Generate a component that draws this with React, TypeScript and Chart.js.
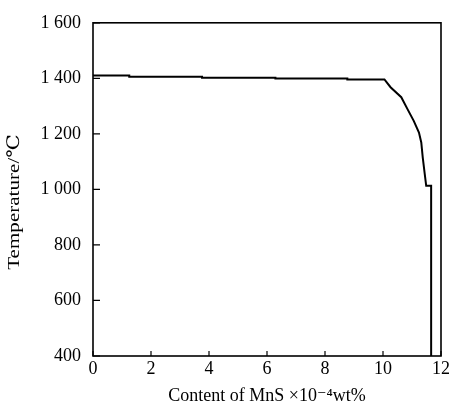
import React, { useEffect, useRef } from "react";
import { Chart, registerables } from "chart.js";

Chart.register(...registerables);

const contentX = [0, 1.25, 1.25, 3.76, 3.76, 6.29, 6.29, 8.77, 8.77, 10.05, 10.26, 10.63, 10.84, 11.06, 11.24, 11.32, 11.37, 11.44, 11.49, 11.66, 11.66];
const temperatureY = [1410, 1410, 1406, 1406, 1402, 1402, 1399, 1399, 1396, 1396, 1368, 1332, 1290, 1247, 1205, 1169, 1115, 1055, 1013, 1013, 400];
const xTicks = [0, 2, 4, 6, 8, 10, 12];
const yTicks = [400, 600, 800, 1000, 1200, 1400, 1600];
const xTitle = "Content of MnS \u00D710\u207B\u2074wt%";
const yTitle = "Temperature/\u2103";

const FONT = "'Liberation Serif', 'DejaVu Serif', serif";

const fmt = (v: number) =>
  v >= 1000 ? `${Math.floor(v / 1000)} ${String(v % 1000).padStart(3, "0")}` : String(v);

const framePlugin = {
  id: "frameTicks",
  afterDraw(chart: any) {
    const { ctx, chartArea } = chart;
    const xs = chart.scales.x;
    const ys = chart.scales.y;
    ctx.save();
    ctx.strokeStyle = "#000";
    ctx.lineWidth = 1.6;
    ctx.strokeRect(chartArea.left, chartArea.top, chartArea.right - chartArea.left, chartArea.bottom - chartArea.top);
    ctx.lineWidth = 1.2;
    ctx.beginPath();
    xTicks.forEach((t) => {
      const px = xs.getPixelForValue(t);
      ctx.moveTo(px, chartArea.bottom);
      ctx.lineTo(px, chartArea.bottom - 5);
    });
    yTicks.forEach((t) => {
      const py = ys.getPixelForValue(t);
      ctx.moveTo(chartArea.left, py);
      ctx.lineTo(chartArea.left + 7, py);
    });
    ctx.stroke();
    // y-axis title, stretched along its length like the original
    ctx.translate(15, 202);
    ctx.rotate(-Math.PI / 2);
    ctx.scale(1.24, 1);
    ctx.font = `17px ${FONT}`;
    ctx.fillStyle = "#000";
    ctx.textAlign = "center";
    ctx.textBaseline = "middle";
    ctx.fillText(yTitle, 0, 0);
    ctx.restore();
  },
};

export default function App() {
  const ref = useRef<HTMLCanvasElement>(null);
  useEffect(() => {
    if (!ref.current) return;
    const data = contentX.map((x, i) => ({ x, y: temperatureY[i] }));
    const chart = new Chart(ref.current, {
      type: "scatter",
      data: {
        datasets: [
          {
            data,
            showLine: true,
            borderColor: "#000",
            borderWidth: 2,
            pointRadius: 0,
            tension: 0,
            fill: false,
          },
        ],
      },
      options: {
        animation: false,
        responsive: true,
        maintainAspectRatio: false,
        layout: { padding: { top: 22, right: 19, left: 0, bottom: 0 } },
        plugins: { legend: { display: false }, tooltip: { enabled: false } },
        scales: {
          x: {
            type: "linear",
            min: 0,
            max: 12,
            afterBuildTicks: (s: any) => {
              s.ticks = xTicks.map((v) => ({ value: v }));
            },
            afterFit: (s: any) => {
              s.height = 58;
            },
            grid: { display: false, drawTicks: false },
            border: { display: false },
            ticks: {
              color: "#000",
              font: { family: FONT, size: 18 },
              padding: 2,
              maxRotation: 0,
              callback: (v: any) => String(v),
            },
            title: {
              display: true,
              text: xTitle,
              color: "#000",
              font: { family: FONT, size: 18 },
              padding: { top: 0, bottom: 7 },
            },
          },
          y: {
            type: "linear",
            min: 400,
            max: 1600,
            afterBuildTicks: (s: any) => {
              s.ticks = yTicks.map((v) => ({ value: v }));
            },
            afterFit: (s: any) => {
              s.width = 93;
            },
            grid: { display: false, drawTicks: false },
            border: { display: false },
            ticks: {
              color: "#000",
              font: { family: FONT, size: 18 },
              padding: 12,
              callback: (v: any) => fmt(Number(v)),
            },
            title: { display: false },
          },
        },
      },
      plugins: [framePlugin],
    } as any);
    return () => chart.destroy();
  }, []);
  return (
    <div style={{ position: "absolute", left: 0, top: 0, width: 460, height: 414, background: "#fff" }}>
      <canvas ref={ref} />
    </div>
  );
}
